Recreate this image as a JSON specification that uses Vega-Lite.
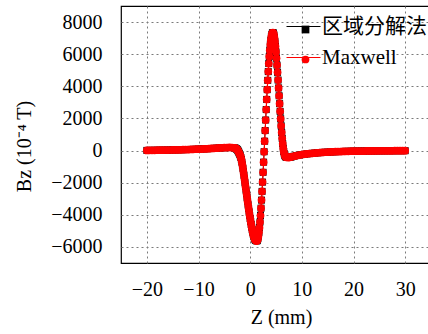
{
"$schema":"https://vega.github.io/schema/vega-lite/v6.json",
"width":310,"height":257,
"autosize":{"type":"none"},
"padding":{"left":121,"top":6,"right":0,"bottom":71},
"background":"white",
"config":{
 "font":"Liberation Serif, Noto Sans CJK SC",
 "view":{"stroke":"black","strokeWidth":1.2},
 "axis":{"labelFont":"Liberation Serif","titleFont":"Liberation Serif","labelFontSize":20,"titleFontSize":20,"titleFontWeight":"normal","labelColor":"black","titleColor":"black","ticks":false,"domain":false,"grid":true,"gridColor":"#7a7a7a","gridDash":[2,3],"gridWidth":1},
 "legend":{"labelFont":"Liberation Serif, Noto Sans CJK SC","labelFontSize":21,"labelColor":"black","padding":0,"title":null}
},
"data":{"values":[
{"z":-20,"b":10},{"z":-19.5,"b":12},{"z":-19,"b":15},{"z":-18.5,"b":17},{"z":-18,"b":20},{"z":-17.5,"b":22},{"z":-17,"b":25},{"z":-16.5,"b":28},{"z":-16,"b":30},{"z":-15.5,"b":35},{"z":-15,"b":40},{"z":-14.5,"b":42},{"z":-14,"b":45},{"z":-13.5,"b":50},{"z":-13,"b":55},{"z":-12.5,"b":60},{"z":-12,"b":65},{"z":-11.5,"b":70},{"z":-11,"b":75},{"z":-10.5,"b":82},{"z":-10,"b":90},{"z":-9.5,"b":97},{"z":-9,"b":105},{"z":-8.5,"b":112},{"z":-8,"b":120},{"z":-7.5,"b":130},{"z":-7,"b":140},{"z":-6.5,"b":150},{"z":-6,"b":160},{"z":-5.5,"b":170},{"z":-5,"b":180},{"z":-4.5,"b":188},{"z":-4,"b":192},{"z":-3.5,"b":185},
{"z":-3.0,"b":160},{"z":-2.9,"b":150},{"z":-2.8,"b":135},{"z":-2.7,"b":115},{"z":-2.6,"b":90},{"z":-2.5,"b":60},{"z":-2.4,"b":15},{"z":-2.3,"b":-40},{"z":-2.2,"b":-105},{"z":-2.1,"b":-175},{"z":-2.0,"b":-250},{"z":-1.9,"b":-330},{"z":-1.8,"b":-430},{"z":-1.7,"b":-560},{"z":-1.6,"b":-720},{"z":-1.5,"b":-900},{"z":-1.4,"b":-1100},{"z":-1.3,"b":-1320},{"z":-1.2,"b":-1540},{"z":-1.1,"b":-1770},{"z":-1.0,"b":-2000},{"z":-0.9,"b":-2230},{"z":-0.8,"b":-2460},{"z":-0.7,"b":-2690},{"z":-0.6,"b":-2920},{"z":-0.5,"b":-3150},{"z":-0.4,"b":-3380},{"z":-0.3,"b":-3600},{"z":-0.2,"b":-3820},{"z":-0.1,"b":-4030},{"z":0.0,"b":-4230},{"z":0.1,"b":-4420},{"z":0.2,"b":-4600},{"z":0.3,"b":-4770},{"z":0.4,"b":-4930},{"z":0.5,"b":-5080},{"z":0.6,"b":-5220},{"z":0.7,"b":-5340},{"z":0.8,"b":-5440},{"z":0.9,"b":-5520},{"z":1.0,"b":-5570},{"z":1.1,"b":-5600},{"z":1.2,"b":-5615},
{"z":1.3,"b":-5620},{"z":1.4,"b":-5586},{"z":1.5,"b":-5486},{"z":1.6,"b":-5320},{"z":1.7,"b":-5090},{"z":1.8,"b":-4799},{"z":1.9,"b":-4449},{"z":2.0,"b":-4043},{"z":2.1,"b":-3587},{"z":2.2,"b":-3085},{"z":2.3,"b":-2542},{"z":2.4,"b":-1963},{"z":2.5,"b":-1353},{"z":2.6,"b":-721},{"z":2.7,"b":-72},{"z":2.8,"b":584},{"z":2.9,"b":1246},{"z":3.0,"b":1902},{"z":3.1,"b":2551},{"z":3.2,"b":3183},{"z":3.3,"b":3793},{"z":3.4,"b":4372},{"z":3.5,"b":4915},{"z":3.6,"b":5417},{"z":3.7,"b":5860},{"z":3.8,"b":6250},{"z":3.9,"b":6590},{"z":4.0,"b":6870},{"z":4.1,"b":7080},{"z":4.2,"b":7230},{"z":4.3,"b":7320},{"z":4.4,"b":7350},
{"z":4.5,"b":7310},{"z":4.6,"b":7200},{"z":4.7,"b":7020},{"z":4.8,"b":6780},{"z":4.9,"b":6490},{"z":5.0,"b":6140},{"z":5.1,"b":5750},{"z":5.2,"b":5320},{"z":5.3,"b":4870},{"z":5.4,"b":4390},{"z":5.5,"b":3900},{"z":5.6,"b":3410},{"z":5.7,"b":2920},{"z":5.8,"b":2440},{"z":5.9,"b":1980},{"z":6.0,"b":1540},{"z":6.1,"b":1130},{"z":6.2,"b":760},{"z":6.3,"b":430},{"z":6.4,"b":150},{"z":6.5,"b":-60},{"z":6.6,"b":-200},{"z":6.7,"b":-300},{"z":6.8,"b":-360},{"z":6.9,"b":-395},{"z":7.0,"b":-415},{"z":7.2,"b":-430},{"z":7.4,"b":-430},{"z":7.6,"b":-420},{"z":7.8,"b":-405},{"z":8.0,"b":-390},
{"z":8.5,"b":-350},{"z":9,"b":-310},{"z":9.5,"b":-280},{"z":10,"b":-250},{"z":10.5,"b":-228},{"z":11,"b":-205},{"z":11.5,"b":-188},{"z":12,"b":-170},{"z":12.5,"b":-155},{"z":13,"b":-140},{"z":13.5,"b":-128},{"z":14,"b":-115},{"z":14.5,"b":-105},{"z":15,"b":-95},{"z":15.5,"b":-88},{"z":16,"b":-80},{"z":16.5,"b":-72},{"z":17,"b":-65},{"z":17.5,"b":-60},{"z":18,"b":-55},{"z":18.5,"b":-50},{"z":19,"b":-45},{"z":19.5,"b":-41},{"z":20,"b":-38},{"z":20.5,"b":-35},{"z":21,"b":-33},{"z":21.5,"b":-30},{"z":22,"b":-28},{"z":22.5,"b":-26},{"z":23,"b":-24},{"z":23.5,"b":-22},{"z":24,"b":-20},{"z":24.5,"b":-19},{"z":25,"b":-18},{"z":25.5,"b":-16},{"z":26,"b":-15},{"z":26.5,"b":-14},{"z":27,"b":-13},{"z":27.5,"b":-12},{"z":28,"b":-10},{"z":28.5,"b":-9},{"z":29,"b":-9},{"z":29.5,"b":-8},{"z":30,"b":-8}
]},
"encoding":{
 "x":{"field":"z","type":"quantitative","scale":{"domain":[-25,35],"nice":false,"zero":false},"axis":{"values":[-20,-10,0,10,20,30],"title":"Z (mm)","labelFont":"Liberation Serif","titleFont":"Liberation Serif","labelPadding":16,"titlePadding":8,"titleX":160,"labelFlush":false}},
 "y":{"field":"b","type":"quantitative","scale":{"domain":[-7000,9000],"nice":false,"zero":false},"axis":{"values":[-6000,-4000,-2000,0,2000,4000,6000,8000],"format":"d","title":"Bz (10⁻⁴ T)","labelFont":"Liberation Serif","titleFont":"Liberation Serif","labelPadding":19,"titlePadding":16,"titleY":140,"titleAlign":"center"}}
},
"layer":[
 {"mark":{"type":"line","strokeWidth":1},"encoding":{"stroke":{"datum":"区域分解法","scale":{"domain":["区域分解法","Maxwell"],"range":["black","red"]},"legend":{"orient":"none","legendX":165,"legendY":3,"symbolType":"stroke","symbolSize":1156,"symbolStrokeWidth":1,"labelOffset":1,"rowPadding":3}}}},
 {"mark":{"type":"point","filled":true,"opacity":1,"size":49},"encoding":{"color":{"datum":"区域分解法","scale":{"domain":["Maxwell","区域分解法"],"range":["red","black"]},"legend":{"orient":"none","legendX":174,"legendY":13,"values":["区域分解法","Maxwell"],"labelOpacity":0,"symbolSize":60,"symbolStrokeWidth":0,"rowPadding":8}},"shape":{"datum":"区域分解法","scale":{"domain":["Maxwell","区域分解法"],"range":["circle","square"]}}}},
 {"mark":{"type":"line","strokeWidth":1},"encoding":{"stroke":{"datum":"Maxwell"}}},
 {"mark":{"type":"point","filled":true,"opacity":1,"size":60},"encoding":{"color":{"datum":"Maxwell"},"shape":{"datum":"Maxwell"}}}
]
}
